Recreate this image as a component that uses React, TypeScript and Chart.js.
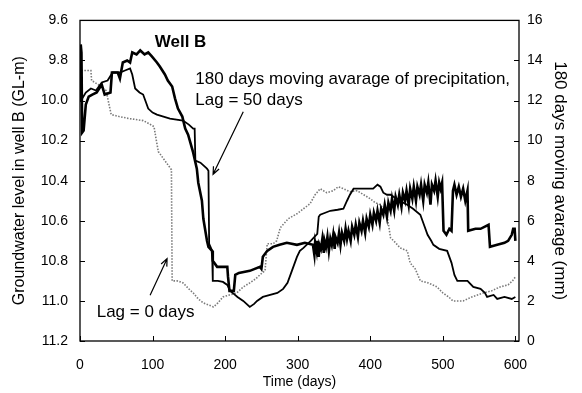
import { useEffect, useRef } from "react";
import { Chart, registerables } from "chart.js";

Chart.register(...registerables);

// ---- Data ----
const xTickValues = [0, 100, 200, 300, 400, 500, 600];
const leftTickLabels = ["9.6", "9.8", "10.0", "10.2", "10.4", "10.6", "10.8", "11.0", "11.2"];
const rightTickLabels = ["0", "2", "4", "6", "8", "10", "12", "14", "16"];

// Groundwater level in well B (GL-m), left axis
const gwDays = [
  0, 1, 2, 3, 5, 8, 12, 17, 23, 30, 34, 42, 44, 52, 55, 59, 65, 69, 72, 78, 83, 89, 94, 99,
  106, 110, 117, 121, 127, 131, 135, 141, 145, 149, 156, 161, 163, 168, 170, 175, 177, 182,
  183, 189, 203, 204, 206, 212, 214, 219, 234, 248, 250, 252, 258, 266, 275, 285, 299, 310,
  321, 323, 324, 326, 327, 329, 330, 332, 334, 336, 337, 339, 341, 343, 345, 347, 349, 351,
  352, 355, 357, 359, 361, 364, 366, 368, 370, 373, 375, 378, 380, 383, 385, 388, 390, 393,
  395, 398, 400, 403, 405, 408, 410, 413, 415, 418, 420, 423, 425, 428, 430, 433, 435, 438,
  440, 443, 445, 448, 450, 453, 455, 458, 460, 463, 465, 468, 470, 473, 475, 478, 480, 483,
  485, 488, 490, 493, 495, 497, 499, 501, 505, 509, 512, 514, 516, 519, 522, 525, 528, 531,
  534, 535, 545, 552, 563, 565, 575, 585, 590, 595, 597, 599, 600,
];
const gwLevels = [
  10.0, 9.72, 9.76, 10.16, 10.15, 10.02, 9.98, 9.97, 9.96, 9.92, 9.97, 9.96, 9.86, 9.86, 9.89,
  9.81, 9.8, 9.81, 9.76, 9.77, 9.75, 9.77, 9.76, 9.78, 9.81, 9.83, 9.87, 9.9, 9.93, 9.99,
  10.04, 10.08, 10.14, 10.17, 10.26, 10.34, 10.41, 10.5, 10.59, 10.7, 10.73, 10.75, 10.8,
  10.83, 10.83, 10.88, 10.95, 10.95, 10.87, 10.86, 10.85, 10.83, 10.84, 10.78, 10.75, 10.73,
  10.72, 10.71, 10.72, 10.71,
  10.72, 10.77, 10.71, 10.75, 10.7, 10.78, 10.72, 10.74, 10.69, 10.76, 10.7, 10.73, 10.68,
  10.75, 10.69, 10.72, 10.67, 10.74, 10.68, 10.71, 10.66, 10.72, 10.66, 10.7, 10.64, 10.69,
  10.65, 10.7, 10.63, 10.67, 10.62, 10.68, 10.61, 10.65, 10.6, 10.66, 10.59, 10.63, 10.57,
  10.62, 10.56, 10.6, 10.55, 10.61, 10.54, 10.57, 10.52, 10.58, 10.51, 10.55, 10.49, 10.55,
  10.48, 10.52, 10.47, 10.53, 10.46, 10.5, 10.45, 10.52, 10.44, 10.49, 10.43, 10.5, 10.43,
  10.47, 10.42, 10.5, 10.42, 10.46, 10.41, 10.52, 10.42, 10.45, 10.4, 10.48, 10.41, 10.44,
  10.41, 10.65, 10.67, 10.64, 10.65, 10.45, 10.42, 10.47, 10.43, 10.48, 10.44, 10.5, 10.45,
  10.65, 10.64, 10.64, 10.62, 10.73, 10.72, 10.71, 10.7, 10.67, 10.64, 10.64, 10.7,
];

// 180 days moving average of precipitation, lag = 50 days (right axis)
const lag50Days = [
  0, 3, 8, 15, 22, 30, 38, 45, 55, 62, 69, 72, 76, 82, 87, 91, 94, 100, 106, 115, 124, 133,
  142, 150, 156, 158, 159, 166, 175, 177, 178, 181, 182, 183, 190, 197, 203, 207, 212, 217,
  225, 234, 240, 244, 252, 262, 272, 280, 286, 292, 299, 303, 308, 318, 327, 329, 331, 338,
  345, 355, 363, 368, 372, 377, 390, 404, 410, 414, 418, 423, 428, 440, 451, 459, 469, 474,
  479, 484, 487, 495, 506, 512, 516, 520, 534, 542, 552, 558, 561, 570, 575, 585, 595, 600,
];
const lag50Values = [
  12.1, 12.1, 12.4, 12.6, 12.5, 12.9, 13.0, 13.4, 13.4, 13.5, 13.6, 13.3, 12.6, 12.4, 12.3,
  11.9, 11.6, 11.4, 11.3, 11.2, 11.1, 11.05, 11.0, 10.8, 10.6, 10.6, 9.0, 8.9, 8.6, 8.5, 4.85,
  4.6, 4.5, 3.0, 3.0, 2.95, 2.8, 2.5, 2.35, 2.2, 2.0, 1.7, 1.85, 2.0, 2.2, 2.3, 2.4, 2.6, 2.9,
  3.5, 4.2, 4.5, 4.65, 5.0, 5.35, 6.2, 6.3, 6.4, 6.5, 6.55, 6.6, 7.0, 7.3, 7.6, 7.6, 7.6, 7.8,
  7.7, 7.4, 7.3, 7.3, 7.0, 6.8, 6.6, 6.3, 5.8, 5.3, 5.0, 4.8, 4.6, 4.5, 3.9, 3.3, 3.0, 3.0,
  2.7, 2.6, 2.4, 2.2, 2.3, 2.1, 2.2, 2.1, 2.2,
];

// 180 days moving average of precipitation, lag = 0 days (right axis)
const lag0Days = [
  0, 2, 15, 16, 25, 36, 40, 43, 54, 68, 87, 95, 102, 105, 108, 118, 126, 127, 134, 142, 150,
  156, 163, 170, 184, 190, 197, 206, 216, 225, 234, 242, 251, 255, 258, 266, 271, 276, 287,
  299, 308, 317, 324, 331, 340, 349, 356, 363, 372, 382, 391, 400, 407, 414, 423, 428, 435,
  441, 451, 455, 462, 469, 480, 492, 500, 508, 514, 528, 540, 556, 567, 579, 590, 596, 600,
];
const lag0Values = [
  12.0, 13.5, 13.5, 13.0, 12.8, 12.5, 11.8, 11.3, 11.2, 11.1, 11.0, 10.85, 10.7, 10.05, 9.45,
  8.95, 8.55, 3.0, 3.0, 2.9, 2.6, 2.4, 2.1, 1.9, 1.7, 1.9, 2.2, 2.3, 2.4, 2.7, 2.9, 3.1, 3.4,
  3.5, 4.85, 4.85, 5.0, 5.65, 6.1, 6.35, 6.6, 6.85, 7.3, 7.6, 7.4, 7.5, 7.7, 7.6, 7.45, 7.5,
  7.3, 7.1, 6.9, 6.8, 6.3, 5.15, 4.9, 4.65, 4.5, 3.9, 3.6, 3.0, 2.9, 2.7, 2.4, 2.2, 2.0, 2.0,
  2.2, 2.4, 2.5, 2.7, 2.8, 3.0, 3.2,
];

// Annotations (positioned in data units: day, right-axis value)
const noteTexts = ["Well B", "180 days moving avarage of precipitation,", "Lag = 50 days", "Lag = 0 days"];
const noteDays = [103, 159, 159, 23];
const noteValues = [14.66, 12.85, 11.8, 1.2];
const arrowFrom = [[225, 11.44], [96.6, 2.28]];
const arrowTo = [[183.4, 8.32], [120, 4.11]];

const FONT = "'Liberation Sans', Arial, sans-serif";

function toPoints(xs: number[], ys: number[]) {
  return xs.map((x, i) => ({ x, y: ys[i] }));
}

const framePlugin = {
  id: "frameTicks",
  afterDatasetsDraw(chart: any) {
    const { ctx, chartArea: a, scales } = chart;
    const x = scales.x;
    const yl = scales.y;
    const yr = scales.yR;
    ctx.save();
    ctx.strokeStyle = "#000";
    ctx.lineWidth = 1.3;
    ctx.strokeRect(a.left, a.top, a.right - a.left, a.bottom - a.top);
    ctx.lineWidth = 1;
    ctx.beginPath();
    yl.ticks.forEach((t: any) => {
      const py = Math.round(yl.getPixelForValue(t.value)) + 0.5;
      ctx.moveTo(a.left, py);
      ctx.lineTo(a.left + 5, py);
    });
    yr.ticks.forEach((t: any) => {
      const py = Math.round(yr.getPixelForValue(t.value)) + 0.5;
      ctx.moveTo(a.right - 5, py);
      ctx.lineTo(a.right, py);
    });
    x.ticks.forEach((t: any) => {
      const px = Math.round(x.getPixelForValue(t.value)) + 0.5;
      ctx.moveTo(px, a.bottom);
      ctx.lineTo(px, a.bottom - 5);
    });
    ctx.stroke();

    // annotations
    ctx.fillStyle = "#000";
    ctx.textBaseline = "alphabetic";
    ctx.textAlign = "left";
    noteTexts.forEach((txt, i) => {
      ctx.font = i === 0 ? `bold 17px ${FONT}` : `17px ${FONT}`;
      ctx.fillText(txt, x.getPixelForValue(noteDays[i]), yr.getPixelForValue(noteValues[i]));
    });
    ctx.lineWidth = 1.2;
    arrowFrom.forEach((f, i) => {
      const t = arrowTo[i];
      const x0 = x.getPixelForValue(f[0]);
      const y0 = yr.getPixelForValue(f[1]);
      const x1 = x.getPixelForValue(t[0]);
      const y1 = yr.getPixelForValue(t[1]);
      const ang = Math.atan2(y1 - y0, x1 - x0);
      ctx.beginPath();
      ctx.moveTo(x0, y0);
      ctx.lineTo(x1, y1);
      const h = 8;
      ctx.moveTo(x1 - h * Math.cos(ang - 0.4), y1 - h * Math.sin(ang - 0.4));
      ctx.lineTo(x1, y1);
      ctx.lineTo(x1 - h * Math.cos(ang + 0.4), y1 - h * Math.sin(ang + 0.4));
      ctx.stroke();
    });
    ctx.restore();
  },
};

export default function App() {
  const ref = useRef<HTMLCanvasElement | null>(null);
  useEffect(() => {
    if (!ref.current) return;
    const chart = new Chart(ref.current, {
      type: "line",
      data: {
        datasets: [
          {
            label: "Groundwater level",
            data: toPoints(gwDays, gwLevels),
            yAxisID: "y",
            borderColor: "#000",
            borderWidth: 2.6,
            pointRadius: 0,
            tension: 0,
            order: 0,
          },
          {
            label: "Lag = 50 days",
            data: toPoints(lag50Days, lag50Values),
            yAxisID: "yR",
            borderColor: "#000",
            borderWidth: 1.8,
            pointRadius: 0,
            tension: 0,
            order: 1,
          },
          {
            label: "Lag = 0 days",
            data: toPoints(lag0Days, lag0Values),
            yAxisID: "yR",
            borderColor: "#7a7a7a",
            borderWidth: 1.6,
            borderDash: [1.5, 1.5],
            pointRadius: 0,
            tension: 0,
            order: 2,
          },
        ],
      },
      options: {
        animation: false,
        responsive: false,
        parsing: false as any,
        layout: { padding: { top: 18, left: 0, right: 0, bottom: 0 } },
        plugins: { legend: { display: false }, tooltip: { enabled: false } },
        scales: {
          x: {
            type: "linear",
            min: 0,
            max: 605,
            grid: { display: false, drawTicks: false },
            border: { display: false },
            afterBuildTicks: (s: any) => {
              s.ticks = xTickValues.map((v) => ({ value: v }));
            },
            afterFit: (s: any) => {
              s.height = 52;
            },
            ticks: {
              color: "#000",
              padding: 16,
              font: { family: FONT, size: 14 },
              maxRotation: 0,
              callback: (v: any) => String(v),
            },
            title: {
              display: true,
              text: "Time (days)",
              color: "#000",
              font: { family: FONT, size: 14 },
              padding: { top: 0, bottom: 2 },
            },
          },
          y: {
            type: "linear",
            position: "left",
            reverse: true,
            min: 9.6,
            max: 11.2,
            grid: { display: false, drawTicks: false },
            border: { display: false },
            afterBuildTicks: (s: any) => {
              s.ticks = leftTickLabels.map((l) => ({ value: parseFloat(l) }));
            },
            afterFit: (s: any) => {
              s.width = 80;
            },
            ticks: {
              color: "#000",
              padding: 12,
              font: { family: FONT, size: 14 },
              callback: (v: any) => Number(v).toFixed(1),
            },
            title: {
              display: true,
              text: "Groundwater level in well B (GL-m)",
              color: "#000",
              font: { family: FONT, size: 16 },
              padding: { top: 10, bottom: 0 },
            },
          },
          yR: {
            type: "linear",
            position: "right",
            min: 0,
            max: 16,
            grid: { display: false, drawTicks: false },
            border: { display: false },
            afterBuildTicks: (s: any) => {
              s.ticks = rightTickLabels.map((l) => ({ value: parseFloat(l) }));
            },
            afterFit: (s: any) => {
              s.width = 63;
            },
            ticks: {
              color: "#000",
              padding: 8,
              font: { family: FONT, size: 14 },
              callback: (v: any) => String(v),
            },
            title: {
              display: true,
              text: "180 days moving avarage (mm)",
              color: "#000",
              font: { family: FONT, size: 17 },
              padding: { top: 12, bottom: 0 },
            },
          },
        },
      },
      plugins: [framePlugin],
    });
    return () => chart.destroy();
  }, []);
  return (
    <div style={{ position: "fixed", left: 0, top: 0, width: 582, height: 393, background: "#fff" }}>
      <canvas ref={ref} width={582} height={393} style={{ display: "block" }} />
    </div>
  );
}
